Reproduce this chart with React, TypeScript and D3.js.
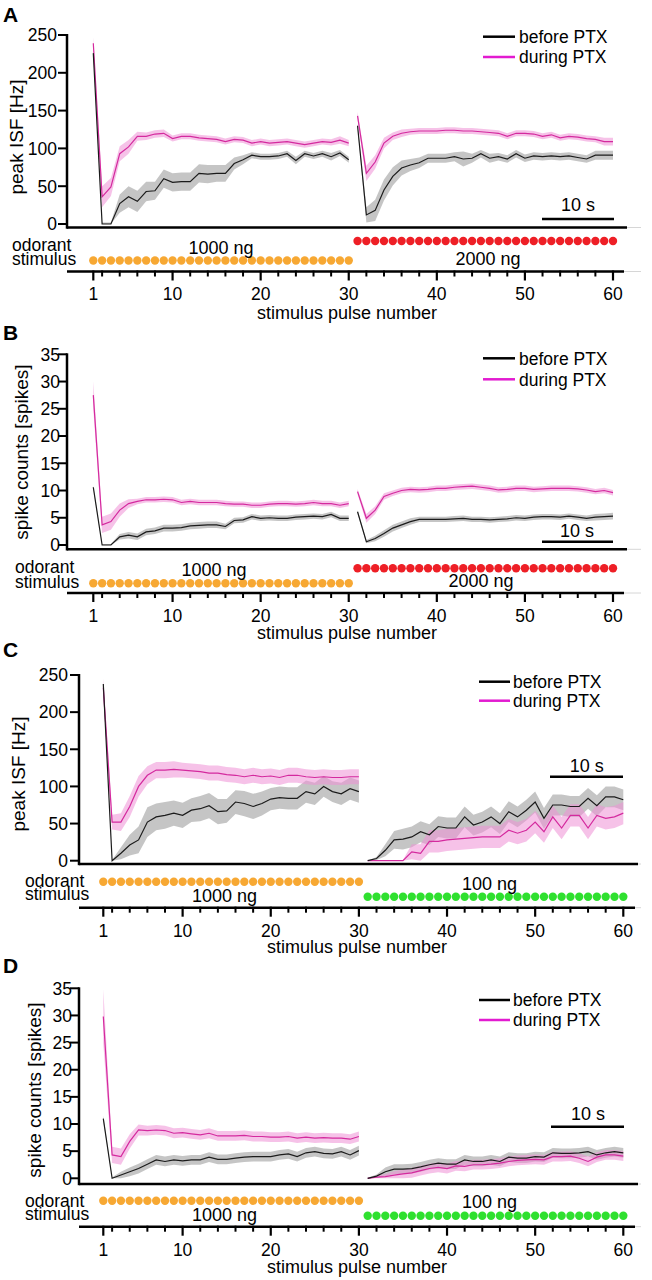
import React from 'react';
import * as d3 from 'd3';

// pulse index 1..60 (two blocks of 30 stimuli)
const pulses = d3.range(1, 61);
const majorTicks = [1, 10, 20, 30, 40, 50, 60];
const minorTicks = [2, 4, 6, 8, 12, 14, 16, 18, 22, 24, 26, 28, 32, 34, 36, 38, 42, 44, 46, 48, 52, 54, 56, 58];
const isfTicks = [0, 50, 100, 150, 200, 250];
const spikeTicks = [0, 5, 10, 15, 20, 25, 30, 35];

// A: peak ISF, 1000 ng -> 2000 ng
const isfBeforeA = [226, 0, 0, 27, 36, 30, 43, 44, 60, 55, 56, 56, 67, 66, 67, 67, 80, 85, 91, 89, 89, 90, 93, 84, 93, 90, 93, 89, 94, 85,
  130, 12, 18, 45, 63, 74, 78, 81, 87, 87, 87, 89, 86, 87, 93, 87, 89, 86, 93, 87, 90, 89, 90, 89, 90, 88, 86, 91, 91, 91];
const isfBeforeSemA = [3, 2, 2, 12, 14, 14, 13, 12, 12, 12, 12, 12, 12, 12, 11, 11, 8, 6, 4, 4, 4, 4, 4, 5, 4, 4, 4, 5, 4, 4,
  3, 10, 14, 14, 12, 10, 8, 7, 6, 6, 6, 6, 10, 6, 5, 6, 5, 5, 5, 5, 5, 5, 5, 5, 5, 5, 5, 6, 6, 6];
const isfDuringA = [239, 36, 49, 93, 102, 116, 116, 119, 120, 113, 116, 116, 114, 113, 112, 109, 112, 111, 107, 109, 107, 108, 109, 107, 105, 107, 109, 108, 111, 107,
  143, 67, 82, 107, 116, 120, 122, 123, 123, 123, 124, 124, 123, 123, 122, 121, 120, 116, 120, 120, 119, 116, 118, 114, 116, 115, 113, 112, 109, 109];
const isfDuringSemA = [8, 14, 12, 10, 9, 6, 5, 5, 5, 4, 4, 4, 4, 4, 4, 4, 4, 4, 4, 4, 4, 4, 4, 4, 4, 4, 4, 4, 5, 4,
  5, 10, 9, 7, 5, 5, 4, 4, 4, 4, 4, 4, 4, 4, 4, 4, 4, 4, 4, 4, 4, 4, 4, 4, 4, 4, 4, 4, 5, 5];

// B: spike counts, 1000 ng -> 2000 ng
const spkBeforeB = [10.6, 0, 0, 1.5, 1.8, 1.5, 2.4, 2.6, 3.1, 3.1, 3.2, 3.5, 3.6, 3.7, 3.7, 3.4, 4.5, 4.6, 5.2, 4.9, 5.0, 4.9, 4.9, 5.1, 5.2, 5.3, 5.2, 5.6, 4.9, 4.9,
  6.1, 0.6, 1.2, 2.1, 3.1, 3.7, 4.3, 4.7, 4.7, 4.7, 4.7, 4.8, 4.9, 4.7, 4.7, 4.6, 4.7, 4.8, 5.0, 4.9, 5.1, 5.2, 5.2, 5.1, 5.3, 5.1, 4.9, 5.1, 5.2, 5.3];
const spkBeforeSemB = [0.3, 0.2, 0.2, 0.5, 0.6, 0.6, 0.6, 0.6, 0.6, 0.6, 0.6, 0.6, 0.6, 0.6, 0.6, 0.5, 0.5, 0.5, 0.5, 0.5, 0.5, 0.5, 0.5, 0.5, 0.5, 0.5, 0.5, 0.5, 0.5, 0.5,
  0.3, 0.3, 0.5, 0.6, 0.6, 0.6, 0.6, 0.5, 0.5, 0.5, 0.5, 0.5, 0.5, 0.5, 0.5, 0.5, 0.5, 0.5, 0.5, 0.5, 0.5, 0.5, 0.5, 0.5, 0.5, 0.5, 0.5, 0.6, 0.6, 0.6];
const spkDuringB = [27.5, 3.7, 4.3, 6.4, 7.6, 8.0, 8.3, 8.3, 8.4, 8.3, 7.8, 8.0, 7.8, 7.8, 7.8, 7.6, 7.5, 7.5, 7.3, 7.3, 7.5, 7.6, 7.6, 7.5, 7.6, 7.8, 7.6, 7.6, 7.3, 7.6,
  9.8, 4.9, 6.4, 8.9, 9.5, 10.0, 10.2, 10.1, 10.2, 10.4, 10.4, 10.6, 10.7, 10.8, 10.6, 10.4, 10.1, 10.2, 10.4, 10.4, 10.2, 10.3, 10.4, 10.4, 10.4, 10.3, 10.1, 9.8, 10.0, 9.6];
const spkDuringSemB = [2.5, 1.5, 1.5, 1.2, 0.8, 0.5, 0.5, 0.5, 0.5, 0.5, 0.5, 0.5, 0.5, 0.5, 0.5, 0.5, 0.5, 0.5, 0.5, 0.5, 0.5, 0.5, 0.5, 0.5, 0.5, 0.5, 0.5, 0.5, 0.5, 0.5,
  0.5, 0.8, 0.7, 0.6, 0.5, 0.5, 0.5, 0.5, 0.5, 0.5, 0.5, 0.5, 0.5, 0.5, 0.5, 0.5, 0.5, 0.5, 0.5, 0.5, 0.5, 0.5, 0.5, 0.5, 0.5, 0.5, 0.5, 0.5, 0.5, 0.5];

// C: peak ISF, 1000 ng -> 100 ng
const isfBeforeC = [238, 0, 10, 21, 28, 52, 59, 61, 64, 61, 68, 70, 74, 66, 67, 79, 77, 73, 77, 83, 85, 84, 84, 93, 90, 100, 93, 90, 97, 93,
  0, 3, 14, 28, 29, 32, 39, 35, 46, 44, 44, 59, 48, 52, 59, 50, 66, 59, 68, 79, 57, 75, 75, 73, 73, 84, 74, 86, 86, 82];
const isfBeforeSemC = [3, 1, 8, 14, 18, 20, 18, 18, 17, 17, 16, 17, 17, 17, 16, 16, 17, 17, 16, 15, 15, 15, 15, 15, 15, 14, 14, 15, 15, 15,
  0, 2, 8, 12, 14, 14, 14, 14, 14, 14, 14, 14, 14, 14, 14, 14, 14, 14, 14, 14, 14, 14, 14, 14, 14, 14, 14, 14, 14, 14];
const isfDuringC = [233, 52, 52, 73, 100, 115, 122, 122, 123, 122, 121, 120, 118, 118, 116, 115, 113, 115, 113, 114, 112, 115, 115, 113, 112, 113, 112, 112, 113, 113,
  0, 0, 0, 0, 0, 12, 10, 26, 26, 28, 29, 30, 31, 32, 32, 32, 41, 37, 41, 52, 39, 59, 44, 61, 61, 44, 61, 57, 59, 64];
const isfDuringSemC = [12, 10, 12, 14, 14, 12, 11, 11, 11, 10, 10, 10, 10, 10, 10, 10, 10, 10, 10, 10, 10, 10, 10, 10, 10, 10, 10, 10, 10, 10,
  1, 1, 1, 1, 1, 10, 12, 15, 15, 15, 15, 15, 15, 15, 15, 15, 15, 15, 15, 15, 15, 15, 15, 15, 15, 15, 15, 15, 15, 15];

// D: spike counts, 1000 ng -> 100 ng
const spkBeforeD = [11.0, 0, 0.6, 1.2, 1.8, 2.6, 3.4, 3.1, 3.4, 3.2, 3.4, 3.4, 3.9, 3.5, 3.5, 3.7, 3.9, 4.0, 4.0, 4.0, 4.3, 4.5, 4.0, 4.7, 4.9, 4.6, 4.5, 4.9, 4.3, 5.1,
  0, 0.4, 1.2, 1.7, 1.7, 1.8, 2.1, 2.5, 2.8, 2.6, 2.6, 3.4, 3.1, 3.1, 3.4, 3.1, 3.9, 3.7, 3.7, 4.0, 3.9, 4.7, 4.6, 4.6, 4.7, 4.9, 4.3, 4.7, 4.9, 4.7];
const spkBeforeSemD = [0.5, 0.2, 0.6, 0.8, 0.9, 0.9, 0.9, 0.9, 0.9, 0.9, 0.9, 0.9, 0.9, 0.9, 0.9, 0.9, 0.9, 0.9, 0.9, 0.9, 0.9, 0.9, 0.9, 0.9, 0.9, 0.9, 0.9, 0.9, 0.9, 0.9,
  0.1, 0.3, 0.8, 0.9, 0.9, 0.9, 0.9, 0.9, 0.9, 0.9, 0.9, 0.9, 0.9, 0.9, 0.9, 0.9, 0.9, 0.9, 0.9, 0.9, 0.9, 0.9, 0.9, 0.9, 0.9, 0.9, 0.9, 0.9, 0.9, 0.9];
const spkDuringD = [29.8, 4.3, 4.0, 6.8, 8.9, 8.8, 8.9, 8.8, 8.3, 8.4, 8.2, 8.0, 8.3, 7.8, 7.8, 7.8, 7.9, 7.7, 7.7, 7.6, 7.6, 7.7, 7.4, 7.6, 7.4, 7.5, 7.4, 7.4, 7.2, 7.7,
  0, 0.2, 0.3, 0.6, 0.8, 1.0, 1.4, 1.8, 2.0, 1.8, 2.3, 2.2, 2.5, 2.5, 2.6, 2.8, 3.1, 3.3, 3.4, 3.5, 3.4, 4.0, 4.0, 4.1, 3.7, 3.1, 3.9, 4.3, 4.3, 4.1];
const spkDuringSemD = [5, 1.5, 1.5, 1.3, 1.0, 0.9, 0.9, 0.9, 0.9, 0.9, 0.9, 0.9, 0.9, 0.9, 0.9, 0.9, 0.9, 0.9, 0.9, 0.9, 0.9, 0.9, 0.9, 0.9, 0.9, 0.9, 0.9, 0.9, 0.9, 0.9,
  0.1, 0.3, 0.5, 0.7, 0.8, 0.9, 0.9, 0.9, 0.9, 0.9, 0.9, 0.9, 0.9, 0.9, 0.9, 0.9, 0.9, 0.9, 0.9, 0.9, 0.9, 0.9, 0.9, 0.9, 0.9, 0.9, 0.9, 0.9, 0.9, 0.9];

const FONT = '"Liberation Sans", Arial, Helvetica, sans-serif';
const BLACK = '#1b1b1b';
const MAGENTA = '#d42a9e';
const ORANGE = '#f7a833';
const RED = '#ee1f26';
const GREEN = '#2fe02f';

const panels = [
  {
    letter: 'A', top: 0, letterY: 22, yLabel: 'peak ISF [Hz]', yLabelX: 23, yLabelCY: 137,
    ticks: isfTicks, yMax: 250, yRange: [224, 35], axisX: 67, xRange: [93.3, 613], tickRight: 57,
    baseY: 227.5, baseEnd: 627, stimAxisY: 271.5, stimEnd: 624,
    before: isfBeforeA, beforeSem: isfBeforeSemA, during: isfDuringA, duringSem: isfDuringSemA,
    rows: [260.5, 241], colors: [ORANGE, RED], labelX: 12, odorY: 251, stimY: 265,
    doses: [{ t: '1000 ng', x: 221, y: 254 }, { t: '2000 ng', x: 488, y: 265 }],
    tickLabelY: 300, titleY: 319, titleX: 347,
    legY: [36.7, 57], legX: [483, 515], legTextX: 519,
    bar: { x1: 542, x2: 614, y: 219 }, barText: { x: 578, y: 211 },
  },
  {
    letter: 'B', top: 320, letterY: 20, yLabel: 'spike counts [spikes]', yLabelX: 28, yLabelCY: 132,
    ticks: spikeTicks, yMax: 35, yRange: [225, 34.3], axisX: 67, xRange: [93.3, 613], tickRight: 60,
    baseY: 229.3, baseEnd: 627, stimAxisY: 273, stimEnd: 624,
    before: spkBeforeB, beforeSem: spkBeforeSemB, during: spkDuringB, duringSem: spkDuringSemB,
    rows: [263.3, 248.3], colors: [ORANGE, RED], labelX: 15, odorY: 253, stimY: 267.5,
    doses: [{ t: '1000 ng', x: 214, y: 255.5 }, { t: '2000 ng', x: 481, y: 266.5 }],
    tickLabelY: 302, titleY: 319, titleX: 347,
    legY: [38.3, 59.3], legX: [483, 515], legTextX: 519,
    bar: { x1: 542, x2: 613, y: 221.7 }, barText: { x: 577, y: 216.7 },
  },
  {
    letter: 'C', top: 640, letterY: 17, yLabel: 'peak ISF [Hz]', yLabelX: 25, yLabelCY: 134,
    ticks: isfTicks, yMax: 250, yRange: [220.7, 35], axisX: 79, xRange: [103.3, 623.3], tickRight: 68,
    baseY: 224, baseEnd: 638, stimAxisY: 267.7, stimEnd: 635,
    before: isfBeforeC, beforeSem: isfBeforeSemC, during: isfDuringC, duringSem: isfDuringSemC,
    rows: [241.7, 256.7], colors: [ORANGE, GREEN], labelX: 25, odorY: 246.7, stimY: 260,
    doses: [{ t: '1000 ng', x: 224.5, y: 261.7 }, { t: '100 ng', x: 489.5, y: 250 }],
    tickLabelY: 296.7, titleY: 313, titleX: 357,
    legY: [41.7, 60.7], legX: [479, 510], legTextX: 513,
    bar: { x1: 550, x2: 623, y: 136.7 }, barText: { x: 586.7, y: 131.7 },
  },
  {
    letter: 'D', top: 960, letterY: 13, yLabel: 'spike counts [spikes]', yLabelX: 41, yLabelCY: 130,
    ticks: spikeTicks, yMax: 35, yRange: [218.3, 28.3], axisX: 79, xRange: [103.3, 623.3], tickRight: 72,
    baseY: 224, baseEnd: 638, stimAxisY: 266.7, stimEnd: 635,
    before: spkBeforeD, beforeSem: spkBeforeSemD, during: spkDuringD, duringSem: spkDuringSemD,
    rows: [240.7, 255.7], colors: [ORANGE, GREEN], labelX: 25, odorY: 246.7, stimY: 260,
    doses: [{ t: '1000 ng', x: 224.5, y: 261 }, { t: '100 ng', x: 489.5, y: 248.3 }],
    tickLabelY: 296, titleY: 312.5, titleX: 357,
    legY: [40, 60], legX: [479, 510], legTextX: 513,
    bar: { x1: 551, x2: 624, y: 166.7 }, barText: { x: 588, y: 160 },
  },
];

type Pt = { p: number; v: number; s: number };

const Panel = ({ cfg }: { cfg: any }) => {
  const x = d3.scaleLinear().domain([1, 60]).range(cfg.xRange);
  const y = d3.scaleLinear().domain([0, cfg.yMax]).range(cfg.yRange);

  const rows = (vals: number[], sem: number[]): Pt[] => pulses.map((p, i) => ({ p, v: vals[i], s: sem[i] }));
  const blocks = (pts: Pt[]) => [pts.slice(0, 30), pts.slice(30)];

  const line = d3.line<Pt>().x(d => x(d.p)).y(d => y(d.v));
  const area = d3.area<Pt>()
    .x(d => x(d.p))
    .y0(d => y(Math.max(0, d.v - d.s)))
    .y1(d => y(d.v + d.s));

  const before = blocks(rows(cfg.before, cfg.beforeSem));
  const during = blocks(rows(cfg.during, cfg.duringSem));

  return (
    <g transform={`translate(0,${cfg.top})`} fontFamily={FONT}>
      <text x={3} y={cfg.letterY} fontSize={21} fontWeight="bold">{cfg.letter}</text>

      {/* y axis */}
      <text transform={`translate(${cfg.yLabelX},${cfg.yLabelCY}) rotate(-90)`} textAnchor="middle" fontSize={19}>{cfg.yLabel}</text>
      {cfg.ticks.map((t: number) => (
        <g key={t}>
          <line x1={cfg.axisX - 9} x2={cfg.axisX} y1={y(t)} y2={y(t)} stroke="#000" strokeWidth={2} />
          <text x={cfg.tickRight} y={y(t)} dy="0.36em" textAnchor="end" fontSize={17.5}>{t}</text>
        </g>
      ))}

      {/* mean +- sem bands and mean lines, drawn per stimulus block */}
      {before.map((b, i) => <path key={'gb' + i} d={area(b) || ''} fill="#b5b5b5" fillOpacity={0.78} />)}
      {during.map((b, i) => <path key={'pb' + i} d={area(b) || ''} fill="#ef8fd5" fillOpacity={0.55} />)}
      {during.map((b, i) => <path key={'pl' + i} d={line(b) || ''} fill="none" stroke={MAGENTA} strokeWidth={1.2} />)}
      {before.map((b, i) => <path key={'bl' + i} d={line(b) || ''} fill="none" stroke={BLACK} strokeWidth={1.2} />)}

      <line x1={cfg.axisX} x2={cfg.axisX} y1={y(cfg.yMax) - 1} y2={cfg.baseY + 1.2} stroke="#000" strokeWidth={2.5} />
      <line x1={cfg.axisX} x2={cfg.baseEnd} y1={cfg.baseY} y2={cfg.baseY} stroke="#000" strokeWidth={2.5} />
      <line x1={cfg.baseEnd} x2={641} y1={cfg.baseY} y2={cfg.baseY} stroke="#d6d6d6" strokeWidth={1} />

      {/* scale bar */}
      <line x1={cfg.bar.x1} x2={cfg.bar.x2} y1={cfg.bar.y} y2={cfg.bar.y} stroke="#000" strokeWidth={2.5} />
      <text x={cfg.barText.x} y={cfg.barText.y} textAnchor="middle" fontSize={18}>10 s</text>

      {/* legend */}
      <line x1={cfg.legX[0]} x2={cfg.legX[1]} y1={cfg.legY[0]} y2={cfg.legY[0]} stroke="#000" strokeWidth={2.5} />
      <line x1={cfg.legX[0]} x2={cfg.legX[1]} y1={cfg.legY[1]} y2={cfg.legY[1]} stroke="#e21bd0" strokeWidth={2.5} />
      <text x={cfg.legTextX} y={cfg.legY[0]} dy="0.36em" fontSize={17.5}>before PTX</text>
      <text x={cfg.legTextX} y={cfg.legY[1]} dy="0.36em" fontSize={17.5}>during PTX</text>

      {/* stimulus rows */}
      <text x={cfg.labelX} y={cfg.odorY} fontSize={17.5}>odorant</text>
      <text x={cfg.labelX} y={cfg.stimY} fontSize={17.5}>stimulus</text>
      {pulses.map((p, i) => (
        <circle key={'d' + p} cx={x(p)} cy={cfg.rows[i < 30 ? 0 : 1]} r={4.2} fill={cfg.colors[i < 30 ? 0 : 1]} />
      ))}
      {cfg.doses.map((d: any) => (
        <text key={d.t} x={d.x} y={d.y} textAnchor="middle" fontSize={18}>{d.t}</text>
      ))}

      {/* pulse number axis */}
      <line x1={cfg.axisX} x2={cfg.stimEnd} y1={cfg.stimAxisY} y2={cfg.stimAxisY} stroke="#000" strokeWidth={2.5} />
      <line x1={cfg.stimEnd} x2={641} y1={cfg.stimAxisY} y2={cfg.stimAxisY} stroke="#d6d6d6" strokeWidth={1} />
      {minorTicks.map(t => (
        <line key={'m' + t} x1={x(t)} x2={x(t)} y1={cfg.stimAxisY - 1} y2={cfg.stimAxisY + 5} stroke="#000" strokeWidth={2} />
      ))}
      {majorTicks.map(t => (
        <g key={'M' + t}>
          <line x1={x(t)} x2={x(t)} y1={cfg.stimAxisY - 1} y2={cfg.stimAxisY + 9} stroke="#000" strokeWidth={2.2} />
          <text x={x(t)} y={cfg.tickLabelY} textAnchor="middle" fontSize={17.5}>{t}</text>
        </g>
      ))}
      <text x={cfg.titleX} y={cfg.titleY} textAnchor="middle" fontSize={18}>stimulus pulse number</text>
    </g>
  );
};

export default function App() {
  return (
    <svg width={652} height={1280} style={{ position: 'absolute', left: 0, top: 0, background: '#fff' }}>
      <rect width={652} height={1280} fill="#fff" />
      {panels.map(cfg => <Panel key={cfg.letter} cfg={cfg} />)}
    </svg>
  );
}
